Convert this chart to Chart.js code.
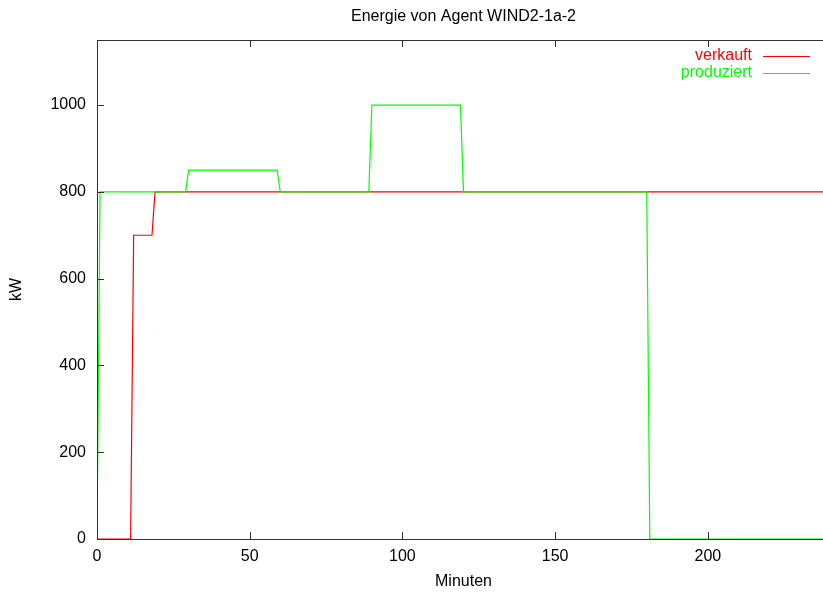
<!DOCTYPE html>
<html>
<head>
<meta charset="utf-8">
<script src="https://cdn.jsdelivr.net/npm/chart.js@4.4.1/dist/chart.umd.min.js"></script>
<style>
    body { margin: 0; overflow: hidden; background: #fff; }
</style>
</head>
<body>
<canvas id="energyChart" width="831" height="593"></canvas>
<script>
// data (minutes / kW)
const verkauftMin = [0, 11, 12, 18, 19, 240];
const verkauftKW = [0, 0, 700, 700, 800, 800];
const produziertMin = [0, 1, 29, 30, 59, 60, 89, 90, 119, 120, 180, 181, 240];
const produziertKW = [0, 800, 800, 850, 850, 800, 800, 1000, 1000, 800, 800, 0, 0];
const xTicks = [0, 50, 100, 150, 200];
const yTicks = [0, 200, 400, 600, 800, 1000];

const font = "'Liberation Sans', Arial, sans-serif";
const axisColor = '#333';

const toPoints = (xs, ys) => xs.map((x, i) => ({ x: x, y: ys[i] }));

// gnuplot style ticks pointing into the plot + frame
const frameTicks = {
    id: 'frameTicks',
    afterDatasetsDraw(chart) {
        const { ctx, chartArea: a, scales } = chart;
        ctx.save();
        ctx.strokeStyle = axisColor;
        ctx.lineWidth = 1;
        ctx.beginPath();
        xTicks.forEach(v => {
            const px = Math.round(scales.x.getPixelForValue(v)) + 0.5;
            ctx.moveTo(px, a.bottom); ctx.lineTo(px, a.bottom - 7);
            ctx.moveTo(px, a.top); ctx.lineTo(px, a.top + 7);
        });
        yTicks.forEach(v => {
            const py = Math.round(scales.y.getPixelForValue(v)) + 0.5;
            ctx.moveTo(a.left, py); ctx.lineTo(a.left + 7, py);
            ctx.moveTo(a.right, py); ctx.lineTo(a.right - 7, py);
        });
        ctx.stroke();
        ctx.strokeRect(Math.round(a.left) + 0.5, Math.round(a.top) + 0.5,
            Math.round(a.right - a.left), Math.round(a.bottom - a.top));
        ctx.restore();
    }
};

// legend: text right aligned, sample line to the right
const gnuLegend = {
    id: 'gnuLegend',
    afterDraw(chart) {
        const { ctx } = chart;
        ctx.save();
        ctx.font = '16px ' + font;
        ctx.textAlign = 'right';
        ctx.textBaseline = 'middle';
        chart.data.datasets.forEach((ds, i) => {
            const y = 56 + i * 16.5;
            ctx.fillStyle = ds.borderColor;
            ctx.fillText(ds.label, 752, y);
            ctx.strokeStyle = ds.borderColor;
            ctx.lineWidth = 1;
            ctx.beginPath();
            ctx.moveTo(763, Math.round(y) + 0.5);
            ctx.lineTo(810, Math.round(y) + 0.5);
            ctx.stroke();
        });
        ctx.restore();
    }
};

const ctx = document.getElementById('energyChart').getContext('2d');

new Chart(ctx, {
    type: 'line',
    data: {
        datasets: [{
            label: 'verkauft',
            data: toPoints(verkauftMin, verkauftKW),
            borderColor: '#ff0000',
            borderWidth: 1.2,
            pointRadius: 0,
            order: 1
        }, {
            label: 'produziert',
            data: toPoints(produziertMin, produziertKW),
            borderColor: '#00ff00',
            borderWidth: 1.2,
            pointRadius: 0,
            order: 0
        }]
    },
    options: {
        responsive: false,
        animation: false,
        layout: { padding: { right: 1 } },
        plugins: {
            legend: { display: false },
            tooltip: { enabled: false },
            title: {
                display: true,
                text: 'Energie von Agent WIND2-1a-2',
                fullSize: false,
                color: '#000',
                font: { family: font, size: 16, weight: 'normal' },
                padding: { top: 7, bottom: 13.8 }
            }
        },
        scales: {
            x: {
                type: 'linear',
                min: 0,
                max: 240,
                afterFit: s => { s.height = 54; },
                grid: { display: false, drawTicks: false },
                border: { display: false },
                ticks: {
                    stepSize: 50,
                    includeBounds: false,
                    padding: 8,
                    maxRotation: 0,
                    color: '#000',
                    font: { family: font, size: 16 },
                    callback: v => String(v)
                },
                title: {
                    display: true,
                    text: 'Minuten',
                    color: '#000',
                    font: { family: font, size: 16 },
                    padding: { top: 2, bottom: 2 }
                }
            },
            y: {
                min: 0,
                max: 1150,
                afterFit: s => { s.width = 97; },
                grid: { display: false, drawTicks: false },
                border: { display: false },
                ticks: {
                    stepSize: 200,
                    includeBounds: false,
                    padding: 11,
                    color: '#000',
                    font: { family: font, size: 16 },
                    callback: v => String(v)
                },
                title: {
                    display: true,
                    text: 'kW',
                    color: '#000',
                    font: { family: font, size: 16 },
                    padding: { top: 7, bottom: 0 }
                }
            }
        }
    },
    plugins: [frameTicks, gnuLegend]
});
</script>
</body>
</html>
